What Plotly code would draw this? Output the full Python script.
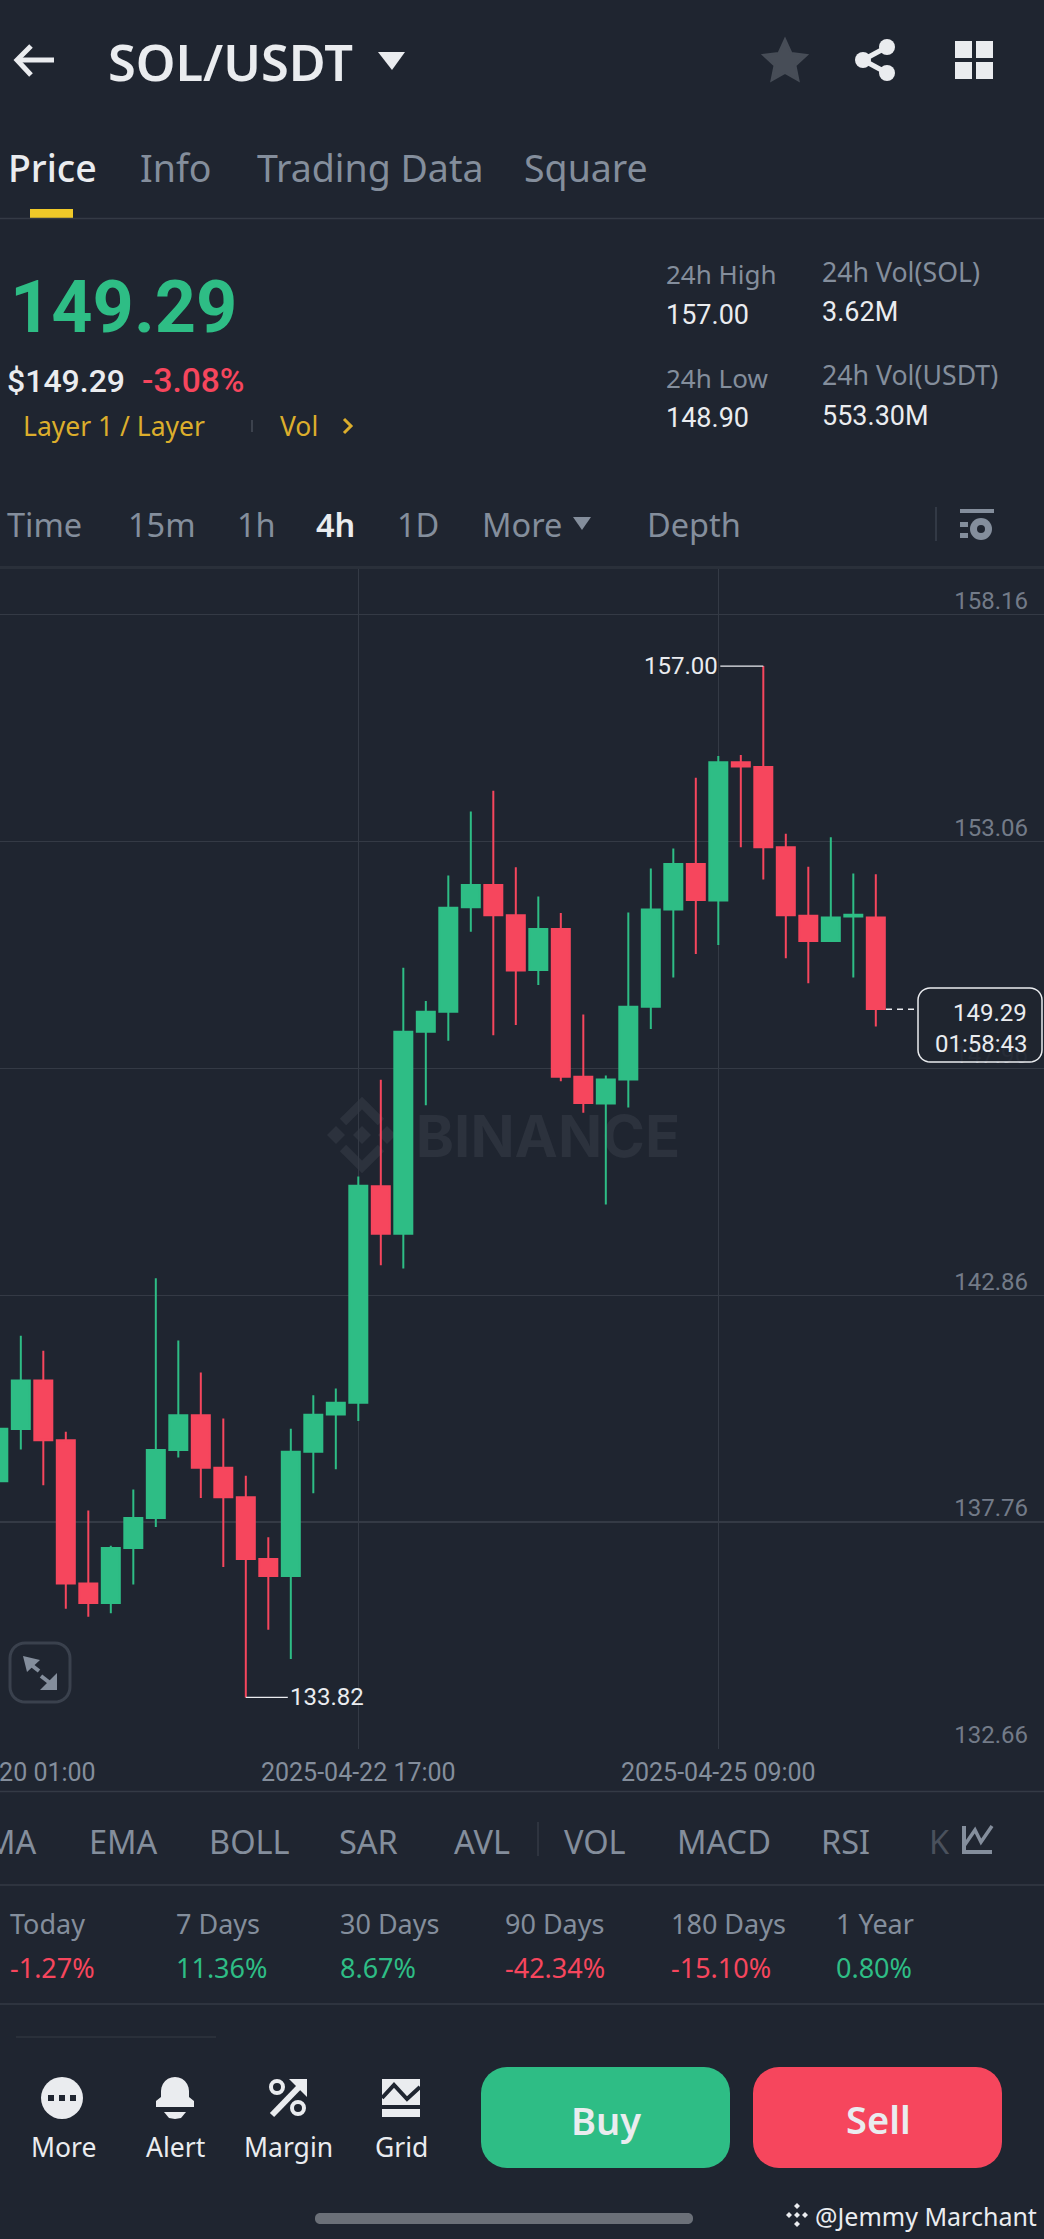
import math
import pandas as pd
import plotly.graph_objects as go

# ---------- data ----------
START = "2025-04-20 01:00"
OPEN = [138.68, 139.85, 140.94, 139.60, 136.38, 135.94, 137.18, 137.85, 139.38, 140.16,
        138.98, 138.32, 136.93, 136.55, 139.34, 140.18, 140.44, 145.31, 144.24, 148.78,
        149.23, 151.58, 152.08, 151.40, 150.17, 151.09, 147.77, 147.17, 147.71, 149.34,
        151.53, 152.55, 151.73, 154.84, 154.73, 152.93, 151.39, 150.82, 151.37, 151.35]
HIGH = [139.90, 141.95, 141.61, 139.79, 138.02, 137.23, 138.49, 143.24, 141.84, 141.12,
        140.09, 138.80, 137.42, 139.86, 140.61, 140.76, 145.53, 147.70, 150.22, 149.47,
        152.29, 153.73, 154.20, 152.48, 151.82, 151.45, 149.17, 147.80, 151.46, 152.45,
        152.90, 154.49, 154.98, 155.00, 157.00, 153.23, 152.49, 153.15, 152.34, 152.32]
LOW = [138.60, 139.39, 138.59, 135.81, 135.63, 135.71, 136.36, 137.65, 139.21, 138.30,
       136.75, 133.82, 135.34, 134.68, 138.41, 138.95, 140.03, 143.53, 143.46, 147.13,
       148.58, 151.03, 148.70, 148.93, 149.83, 147.67, 146.96, 144.90, 147.08, 148.84,
       150.00, 150.53, 150.73, 152.93, 152.20, 150.43, 149.87, 150.82, 150.00, 148.90]
CLOSE = [139.86, 140.94, 139.60, 136.38, 135.94, 137.18, 137.85, 139.38, 140.16, 138.98,
         138.32, 136.93, 136.55, 139.34, 140.17, 140.44, 145.32, 144.24, 148.78, 149.23,
         151.57, 152.08, 151.40, 150.16, 151.09, 147.77, 147.18, 147.71, 149.34, 151.53,
         152.55, 151.74, 154.84, 154.74, 152.93, 151.40, 150.82, 151.35, 151.41, 149.29]
PRICE_TICKS = [132.66, 137.76, 142.86, 147.96, 153.06, 158.16]
DATE_TICKS = ["2025-04-20 01:00", "2025-04-22 17:00", "2025-04-25 09:00"]
LAST_PRICE = 149.29
HIGH_LABEL = 157.00
LOW_LABEL = 133.82
INDICATORS = ["MA", "EMA", "BOLL", "SAR", "AVL", "VOL", "MACD", "RSI", "K"]
PERIODS = ["Today", "7 Days", "30 Days", "90 Days", "180 Days", "1 Year"]
CHANGES = ["-1.27%", "11.36%", "8.67%", "-42.34%", "-15.10%", "0.80%"]

# ---------- page geometry ----------
OFF = 3                # plot starts 3 px left of the viewport, so the first date tick is in range
W, H = 1044 + OFF, 2239
BG = "#1f2530"
GREEN, RED = "#2ebd85", "#f6465d"
GREY, WHITE = "#848e9c", "#eaecef"
GOLD = "#dcae2c"
LINE = "#343a45"
UI = "Noto Sans"
NUM = "Roboto"

dates = pd.date_range(START, periods=len(OPEN), freq="4h")


def X(px):
    return (px + OFF) / W


def Y(py):
    return 1 - py / H


shapes, notes = [], []


def text(s, x, y, size, color=WHITE, anchor="left", family=UI, weight=400):
    notes.append(dict(text=s, xref="paper", yref="paper", x=X(x), y=Y(y), xanchor=anchor,
                      yanchor="middle", showarrow=False, borderpad=0,
                      font=dict(family=family, size=size, color=color, weight=weight)))


def line(x0, y0, x1, y1, color=LINE, w=1.5, dash=None, layer="above"):
    shapes.append(dict(type="line", xref="paper", yref="paper", x0=X(x0), y0=Y(y0), x1=X(x1), y1=Y(y1),
                       line=dict(color=color, width=w, dash=dash), layer=layer))


def path(pts, fill=WHITE, close=True, stroke=None, w=0, layer="above"):
    d = "M " + " L ".join(f"{X(a):.5f},{Y(b):.5f}" for a, b in pts) + (" Z" if close else "")
    shapes.append(dict(type="path", xref="paper", yref="paper", path=d, layer=layer,
                       fillcolor=fill if close else "rgba(0,0,0,0)",
                       line=dict(color=stroke or "rgba(0,0,0,0)", width=w)))


def rect(x0, y0, x1, y1, fill=WHITE, layer="above"):
    shapes.append(dict(type="rect", xref="paper", yref="paper", x0=X(x0), y0=Y(y0), x1=X(x1), y1=Y(y1),
                       fillcolor=fill, line=dict(width=0), layer=layer))


def circle(cx, cy, r, fill=WHITE, stroke=None, w=0):
    shapes.append(dict(type="circle", xref="paper", yref="paper", x0=X(cx - r), x1=X(cx + r),
                       y0=Y(cy + r), y1=Y(cy - r), fillcolor=fill, layer="above",
                       line=dict(color=stroke or "rgba(0,0,0,0)", width=w)))


def rrect_pts(x0, y0, x1, y1, r, n=8):
    pts = []
    for cx, cy, a0 in ((x1 - r, y0 + r, -90), (x1 - r, y1 - r, 0), (x0 + r, y1 - r, 90), (x0 + r, y0 + r, 180)):
        for i in range(n + 1):
            a = math.radians(a0 + 90 * i / n)
            pts.append((cx + r * math.cos(a), cy + r * math.sin(a)))
    return pts


def diamond(cx, cy, h, fill, layer="above"):
    path([(cx - h, cy), (cx, cy - h), (cx + h, cy), (cx, cy + h)], fill=fill, layer=layer)


# ---------- header ----------
path([(54, 60), (17, 60)], close=False, stroke=WHITE, w=5)
path([(31, 46), (17, 60), (31, 75)], close=False, stroke=WHITE, w=5)
text("SOL/USDT", 107, 62, 50.5, WHITE, weight=600)
path([(378, 52), (405, 52), (392, 70)], fill=WHITE)
star = []
for i in range(10):
    r = 23 if i % 2 == 0 else 11
    a = math.radians(-90 + 36 * i)
    star.append((785 + r * math.cos(a), 62 + r * math.sin(a)))
path(star, fill="#474d57", stroke="#474d57", w=2)
line(863, 60, 887, 47, WHITE, 5)
line(863, 60, 887, 73, WHITE, 5)
circle(887, 47, 8, WHITE)
circle(863, 60, 8, WHITE)
circle(887, 73, 8, WHITE)
for xx in (955, 976):
    for yy in (41, 62):
        rect(xx, yy, xx + 17, yy + 17, WHITE)

# tabs
text("Price", 7, 167, 37.5, WHITE, weight=500)
text("Info", 139, 167, 37.5, GREY)
text("Trading Data", 256, 167, 37.5, GREY)
text("Square", 523, 167, 37.5, GREY)
rect(30, 209, 73, 218, "#f0c929")
line(0, 218.5, 1044, 218.5, LINE, 1.5)

# ticker block
text("149.29", 9, 307, 72, GREEN, family=NUM, weight=700)
text("$149.29", 6, 381, 32, WHITE, family=NUM, weight=500)
text("-3.08%", 141, 381, 33.5, RED, family=NUM, weight=500)
text("Layer 1 / Layer", 22, 426, 26.5, GOLD)
line(252, 420, 252, 432, "#474d57", 1.5)
text("Vol", 279, 426, 26.5, GOLD)
path([(344, 419), (351, 426), (344, 433)], close=False, stroke=GOLD, w=3)
text("24h High", 665, 274, 26, GREY)
text("157.00", 665, 315, 27, WHITE, family=NUM)
text("24h Low", 665, 378, 26, GREY)
text("148.90", 665, 418, 27, WHITE, family=NUM)
text("24h Vol(SOL)", 821, 271, 26.7, GREY)
text("3.62M", 821, 312, 27, WHITE, family=NUM)
text("24h Vol(USDT)", 821, 374, 26.7, GREY)
text("553.30M", 821, 416, 27, WHITE, family=NUM)

# interval row
for s, x, c, wgt in (("Time", 6, GREY, 400), ("15m", 127, GREY, 400), ("1h", 236, GREY, 400),
                     ("4h", 315, WHITE, 600), ("1D", 396, GREY, 400), ("More", 481, GREY, 400),
                     ("Depth", 646, GREY, 400)):
    text(s, x, 525, 32.5, c, weight=wgt)
path([(573, 517), (591, 517), (582, 530)], fill=GREY)
line(936, 507, 936, 541, "#3a414d", 1.5)
rect(960, 509, 994, 513, GREY)
rect(960, 522, 968, 527, GREY)
rect(960, 533, 968, 538, GREY)
circle(981, 529, 11, GREY)
circle(981, 529, 4, BG)
line(0, 567.5, 1044, 567.5, "#2a303a", 3)

# ---------- chart overlays ----------
shapes.append(dict(type="rect", xref="paper", yref="paper", x0=X(417), x1=X(679), y0=Y(1154), y1=Y(1114),
                   line=dict(width=0), fillcolor="rgba(0,0,0,0)", layer="below",
                   label=dict(text="<b>BINANCE</b>", textposition="middle center",
                              font=dict(family="Inter", size=58, color="#2c323d"))))
WM = "#2c323d"
diamond(336, 1135, 9, WM, "below")
diamond(362, 1135, 9, WM, "below")
diamond(387, 1135, 9, WM, "below")
path([(343, 1122), (362, 1103), (381, 1122)], close=False, stroke=WM, w=9, layer="below")
path([(343, 1148), (362, 1167), (381, 1148)], close=False, stroke=WM, w=9, layer="below")

# last-price tag
line(886, 1009.3, 914, 1009.3, WHITE, 1.5, dash="6px,5px")
path(rrect_pts(918, 988, 1042, 1062, 12), fill="rgba(31,37,48,0.92)", stroke=WHITE, w=1.5)
text(f"{LAST_PRICE:.2f}", 1028, 1013, 24, WHITE, "right", NUM)
text("01:58:43", 1029, 1044, 24, WHITE, "right", NUM)

# expand button
path(rrect_pts(10, 1643, 70, 1702, 15), fill="rgba(0,0,0,0)", stroke="#3a414d", w=3)
path([(23, 1656), (40, 1660), (27, 1672)], fill=GREY)
path([(57, 1690), (40, 1690), (57, 1673)], fill=GREY)
line(30, 1664, 39, 1671, GREY, 4)
line(50, 1683, 41, 1676, GREY, 4)

# ---------- lower panels ----------
line(0, 1791.5, 1044, 1791.5, LINE, 1.5)
for s, x, c in zip(INDICATORS, (-15, 88, 208, 338, 453, 563, 676, 820, 928),
                   (GREY,) * 8 + ("#4a515c",)):
    text(s, x, 1841, 32.5, c)
line(538, 1822, 538, 1856, "#343a45", 1.5)
path([(964, 1826), (964, 1852), (992, 1852)], close=False, stroke=GREY, w=4)
path([(964, 1846), (975, 1830), (981, 1842), (992, 1826)], close=False, stroke=GREY, w=3.5)
line(0, 1885, 1044, 1885, LINE, 1.5)
for s, v, x in zip(PERIODS, CHANGES, (9, 175, 339, 504, 670, 835)):
    text(s, x, 1923, 27, GREY)
    text(v, x, 1967, 27, RED if v.startswith("-") else GREEN)
line(0, 2004, 1044, 2004, LINE, 1.5)
line(16, 2037, 216, 2037, "#2a303a", 2)

# bottom action bar
circle(62, 2098, 21, WHITE)
for xx in (48, 59, 70):
    rect(xx, 2095, xx + 6, 2101, BG)
bell = [(156, 2107), (156, 2101), (161, 2097)]
for i in range(13):
    a = math.radians(180 + 15 * i)
    bell.append((175 + 14 * math.cos(a), 2091 + 14 * math.sin(a)))
bell += [(189, 2097), (194, 2101), (194, 2107)]
path(bell, fill=WHITE)
path([(164, 2112), (186, 2112), (181, 2118), (175, 2119), (169, 2118)], fill=WHITE)
path([(272, 2115), (304, 2082)], close=False, stroke=WHITE, w=6)
path([(289, 2079), (307, 2079), (307, 2097)], fill=WHITE)
circle(277, 2087, 6, BG, WHITE, 4)
circle(298, 2108, 6, BG, WHITE, 4)
rect(382, 2079, 420, 2105, WHITE)
path([(382, 2098), (394, 2085), (407, 2099), (420, 2087)], close=False, stroke=BG, w=4)
rect(382, 2109, 420, 2117, WHITE)
for s, x in (("More", 63), ("Alert", 175), ("Margin", 288), ("Grid", 401)):
    text(s, x, 2147, 26.5, WHITE, "center")
path(rrect_pts(481, 2067, 730, 2168, 26), fill=GREEN)
path(rrect_pts(753, 2067, 1002, 2168, 26), fill=RED)
text("Buy", 606, 2120, 38, WHITE, "center", weight=600)
text("Sell", 878, 2119, 38, WHITE, "center", weight=600)
path(rrect_pts(315, 2213, 693, 2224, 5), fill="#6b7078")
diamond(789, 2215, 3, WHITE)
diamond(805, 2215, 3, WHITE)
diamond(797, 2215, 3, WHITE)
diamond(797, 2206, 3, WHITE)
diamond(797, 2224, 3, WHITE)
text("@Jemmy Marchant", 814, 2216, 25, WHITE)

# ---------- figure ----------
fig = go.Figure(go.Candlestick(
    x=dates, open=OPEN, high=HIGH, low=LOW, close=CLOSE, whiskerwidth=0,
    increasing=dict(line=dict(color=GREEN, width=2), fillcolor=GREEN),
    decreasing=dict(line=dict(color=RED, width=2), fillcolor=RED),
    hoverinfo="skip", showlegend=False))

# high / low callouts, tied to their candles through the axes
hi_idx, lo_idx = HIGH.index(HIGH_LABEL), LOW.index(LOW_LABEL)
notes.append(dict(x=dates[hi_idx], y=HIGH_LABEL, xref="x", yref="y", text=f"{HIGH_LABEL:.2f}", showarrow=True,
                  arrowhead=0, arrowwidth=1.3, arrowcolor=WHITE, axref="pixel", ayref="pixel", ax=-43, ay=0,
                  xanchor="right", standoff=0, borderpad=1, font=dict(family=NUM, size=24, color=WHITE)))
notes.append(dict(x=dates[lo_idx], y=LOW_LABEL, xref="x", yref="y", text=f"{LOW_LABEL:.2f}", showarrow=True,
                  arrowhead=0, arrowwidth=1.3, arrowcolor=WHITE, axref="pixel", ayref="pixel", ax=42, ay=0,
                  xanchor="left", standoff=0, borderpad=1, font=dict(family=NUM, size=24, color=WHITE)))

y_top_price = 153.06 + (841.7 - 567) / 44.55
fig.update_layout(
    width=W, height=H, margin=dict(l=0, r=0, t=0, b=0, pad=0, autoexpand=False), autosize=False,
    paper_bgcolor=BG, plot_bgcolor=BG, boxgap=0.2, boxgroupgap=0, hovermode=False,
    font=dict(family=NUM, color=GREY), showlegend=False,
    shapes=shapes, annotations=notes,
    xaxis=dict(type="date", range=["2025-04-20 00:46", "2025-04-27 18:54"], domain=[0, 1], automargin=False,
               anchor="y", rangeslider=dict(visible=False), tickmode="array", tickvals=DATE_TICKS,
               ticktext=DATE_TICKS, tickangle=0, ticks="outside", ticklen=1, tickcolor="rgba(0,0,0,0)",
               ticklabeloverflow="allow", showgrid=True, gridcolor=LINE, gridwidth=1.3,
               zeroline=False, showline=False, tickfont=dict(family=NUM, size=25, color=GREY)),
    yaxis=dict(range=[132.66, y_top_price], domain=[Y(1749), Y(567)], side="right", anchor="x", automargin=False,
               tickmode="array", tickvals=PRICE_TICKS, ticktext=[f"{v:.2f}" for v in PRICE_TICKS],
               ticklabelposition="inside", ticklabeloverflow="allow", ticklabelshift=-14, ticklabelstandoff=13,
               ticks="", showgrid=True, gridcolor=LINE, gridwidth=1.3, zeroline=False, showline=False,
               tickfont=dict(family=NUM, size=24, color="#737b88")),
)

fig.write_html(
    "out.html",
    config=dict(displayModeBar=False, staticPlot=True),
    post_script=f"document.documentElement.style.background='{BG}';"
                f"document.body.style.margin='0 0 0 -{OFF}px';document.body.style.overflow='hidden';",
)
